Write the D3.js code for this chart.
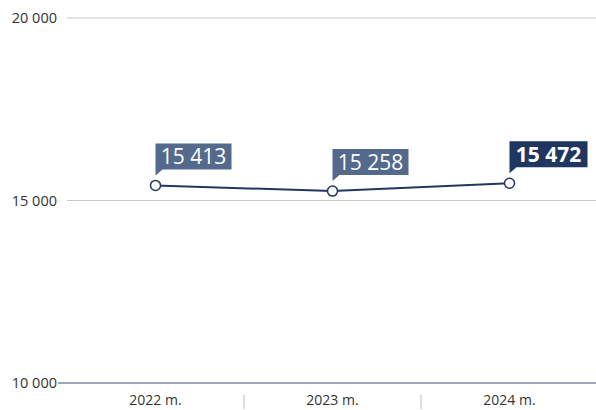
<!DOCTYPE html>
<html>
<head>
<meta charset="utf-8">
<script src="https://cdn.jsdelivr.net/npm/d3@7"></script>
<style>
  body { margin: 0; background: #fff; }
  text { font-family: "Open Sans", sans-serif; }
</style>
</head>
<body>
<script>
const years = ["2022 m.", "2023 m.", "2024 m."];
const values = [15413, 15258, 15472];
const yTicks = [10000, 15000, 20000];

const width = 596;
const height = 410;

const svg = d3.select("body").append("svg")
  .attr("width", width)
  .attr("height", height);

const x = d3.scaleBand().domain(years).range([67, 598]);
const y = d3.scaleLinear().domain([10000, 20000]).range([383, 18]);

const fmt = (v) => d3.format(",")(v).replace(/,/g, " ");

// Grid ////////////////////////////////////////////////////////////////////

const grid = svg.append("g");
grid.selectAll("line")
  .data(yTicks.filter((t) => t !== 10000))
  .join("line")
  .attr("x1", 67).attr("x2", width)
  .attr("y1", (d) => y(d)).attr("y2", (d) => y(d))
  .attr("stroke", "#c8c8c8")
  .attr("stroke-width", 1);

grid.append("line")
  .attr("x1", 58).attr("x2", width)
  .attr("y1", y(10000)).attr("y2", y(10000))
  .attr("stroke", "#7d8aa6")
  .attr("stroke-width", 1.5);

svg.append("g").selectAll("text")
  .data(yTicks)
  .join("text")
  .attr("x", 57)
  .attr("y", (d) => y(d) + 5)
  .attr("text-anchor", "end")
  .attr("font-size", 14.5)
  .attr("fill", "#333")
  .text(fmt);

// X axis //////////////////////////////////////////////////////////////////

const xAxis = svg.append("g");
xAxis.selectAll("text")
  .data(years)
  .join("text")
  .attr("x", (d) => x(d) + x.bandwidth() / 2)
  .attr("y", 405)
  .attr("text-anchor", "middle")
  .attr("font-size", 14)
  .attr("fill", "#333")
  .text((d) => d);

xAxis.selectAll("line")
  .data(years.slice(1))
  .join("line")
  .attr("x1", (d) => x(d)).attr("x2", (d) => x(d))
  .attr("y1", 395).attr("y2", 409)
  .attr("stroke", "#bbb");

// Line ////////////////////////////////////////////////////////////////////

const cx = (i) => x(years[i]) + x.bandwidth() / 2;

svg.append("path")
  .datum(values)
  .attr("d", d3.line().x((d, i) => cx(i)).y((d) => y(d)))
  .attr("fill", "none")
  .attr("stroke", "#22375f")
  .attr("stroke-width", 2);

svg.append("g").selectAll("circle")
  .data(values)
  .join("circle")
  .attr("cx", (d, i) => cx(i))
  .attr("cy", (d) => y(d))
  .attr("r", 5)
  .attr("fill", "#fff")
  .attr("stroke", "#22375f")
  .attr("stroke-width", 1.5);

// Labels //////////////////////////////////////////////////////////////////

const labels = svg.append("g").selectAll("g")
  .data(values)
  .join("g")
  .attr("transform", (d, i) => `translate(${cx(i)}, ${y(d) - 16})`);

labels.each(function (d, i) {
  const g = d3.select(this);
  const last = i === values.length - 1;
  const fill = last ? "#1f3661" : "#536a8d";
  const w = last ? 78 : 76;
  const h = 26;
  g.append("path")
    .attr("d", `M0,${-h}H${w}V0H7L0,6Z`)
    .attr("fill", fill);
  g.append("text")
    .attr("x", w / 2)
    .attr("y", -5)
    .attr("text-anchor", "middle")
    .attr("font-size", 21)
    .attr("font-weight", last ? "bold" : "normal")
    .attr("fill", "#fff")
    .text(fmt(d));
});
</script>
</body>
</html>
